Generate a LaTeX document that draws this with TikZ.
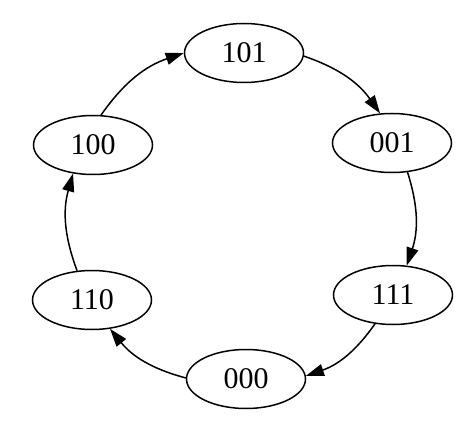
\documentclass[tikz,border=0pt]{standalone}
\usepackage{fontspec}
\setmainfont{Liberation Serif}
\usetikzlibrary{shapes.geometric,arrows.meta}
\begin{document}
\begin{tikzpicture}[x=1pt,y=1pt,
  state/.style={ellipse,draw,line width=1.5pt,minimum width=119pt,minimum height=59pt,inner sep=0pt,font=\fontsize{30}{33}\selectfont},
  edge/.style={line width=1.5pt,-{Triangle[length=18pt,width=12pt]},bend left=18}]
\useasboundingbox (0,0) rectangle (474,429);
\node[state] (n101) at (244,376) {101};
\node[state] (n100) at (93,284) {100};
\node[state] (n001) at (392,286) {001};
\node[state] (n110) at (92,129) {110};
\node[state] (n111) at (393,134) {111};
\node[state] (n000) at (246,50) {000};
\draw[edge] (n100.75) to (n101.180);
\draw[edge] (n101.357) to (n001.112);
\draw[edge] (n001.-62) to (n111.65);
\draw[edge] (n111.-122) to (n000.3);
\draw[edge] (n000.179) to (n110.-58);
\draw[edge] (n110.117) to (n100.-125);
\end{tikzpicture}
\end{document}
